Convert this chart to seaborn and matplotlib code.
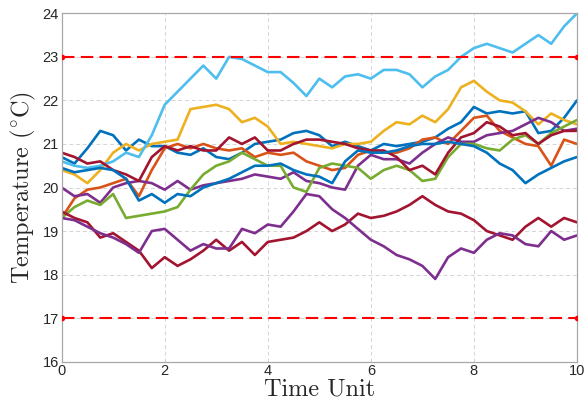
import numpy as np
import pandas as pd
import matplotlib
matplotlib.use("Agg")
import matplotlib.pyplot as plt
import seaborn as sns

# time axis, one reading every 0.25 time units
t = np.linspace(0, 10, 41)

light_blue = [20.6, 20.5, 20.45, 20.5, 20.6, 20.8, 20.7, 21.2, 21.9, 22.2,
              22.5, 22.8, 22.5, 23.0, 22.95, 22.8, 22.65, 22.65, 22.4, 22.1,
              22.5, 22.3, 22.55, 22.6, 22.5, 22.7, 22.7, 22.6, 22.3, 22.55,
              22.7, 23.0, 23.2, 23.3, 23.2, 23.1, 23.3, 23.5, 23.3, 23.7, 24.0]
blue_up = [20.7, 20.55, 20.9, 21.3, 21.2, 20.85, 21.1, 20.95, 20.95, 20.8,
           20.75, 20.9, 20.7, 20.65, 20.8, 21.0, 21.05, 21.1, 21.25, 21.3,
           21.2, 20.95, 21.05, 20.95, 20.85, 21.0, 20.95, 21.0, 21.05, 21.15,
           21.35, 21.5, 21.85, 21.7, 21.75, 21.7, 21.75, 21.25, 21.3, 21.6, 22.0]
blue_low = [20.45, 20.35, 20.4, 20.45, 20.4, 20.2, 19.7, 19.85, 19.65, 19.85,
            19.8, 20.0, 20.1, 20.2, 20.35, 20.5, 20.5, 20.55, 20.4, 20.3,
            20.25, 20.1, 20.6, 20.85, 20.8, 20.8, 20.85, 20.95, 21.0, 21.0,
            21.05, 21.0, 20.95, 20.8, 20.55, 20.4, 20.1, 20.3, 20.45, 20.6, 20.7]
yellow = [20.4, 20.3, 20.1, 20.4, 20.8, 21.0, 20.85, 21.0, 21.05, 21.1,
          21.8, 21.85, 21.9, 21.8, 21.5, 21.6, 21.4, 21.0, 21.05, 21.0,
          20.95, 20.9, 21.0, 21.0, 21.05, 21.3, 21.5, 21.45, 21.65, 21.5,
          21.8, 22.3, 22.45, 22.2, 22.0, 21.95, 21.75, 21.45, 21.7, 21.55, 21.45]
orange = [19.3, 19.75, 19.95, 20.0, 20.1, 20.2, 19.8, 20.4, 20.9, 21.0,
          20.9, 21.0, 20.9, 20.85, 20.9, 20.7, 20.8, 20.75, 20.8, 20.6,
          20.5, 20.4, 20.45, 20.75, 20.85, 20.8, 20.8, 20.9, 21.1, 21.15,
          21.0, 21.3, 21.6, 21.65, 21.3, 21.15, 21.0, 20.95, 20.5, 21.1, 21.0]
green = [19.3, 19.55, 19.7, 19.6, 19.85, 19.3, 19.35, 19.4, 19.45, 19.55,
         19.95, 20.3, 20.5, 20.6, 20.8, 20.65, 20.5, 20.5, 20.0, 19.9,
         20.45, 20.55, 20.5, 20.45, 20.2, 20.4, 20.5, 20.4, 20.15, 20.2,
         20.7, 21.0, 21.0, 20.9, 20.85, 21.1, 21.2, 21.0, 21.25, 21.4, 21.55]
red_up = [20.8, 20.7, 20.55, 20.6, 20.4, 20.3, 20.15, 20.7, 20.95, 20.85,
          20.95, 20.85, 20.85, 21.15, 21.0, 21.15, 20.85, 20.85, 21.0, 21.1,
          21.1, 21.05, 21.0, 20.9, 20.85, 20.85, 20.7, 20.4, 20.5, 20.3,
          20.8, 21.15, 21.25, 21.5, 21.4, 21.2, 21.25, 21.0, 21.2, 21.3, 21.3]
red_low = [19.45, 19.3, 19.2, 18.85, 18.95, 18.75, 18.55, 18.15, 18.4, 18.2,
           18.35, 18.55, 18.8, 18.55, 18.75, 18.45, 18.75, 18.8, 18.85, 19.0,
           19.2, 19.0, 19.15, 19.4, 19.3, 19.35, 19.45, 19.6, 19.8, 19.6,
           19.45, 19.4, 19.25, 19.0, 18.9, 18.8, 19.1, 19.3, 19.1, 19.3, 19.2]
purple_up = [20.0, 19.8, 19.85, 19.65, 20.0, 20.1, 20.15, 20.1, 19.95, 20.15,
             19.95, 20.05, 20.1, 20.15, 20.2, 20.3, 20.25, 20.2, 20.35, 20.15,
             20.1, 20.0, 19.95, 20.5, 20.75, 20.65, 20.65, 20.55, 20.8, 21.0,
             21.15, 21.05, 21.05, 21.2, 21.25, 21.3, 21.45, 21.6, 21.5, 21.3, 21.35]
purple_low = [19.3, 19.25, 19.1, 18.95, 18.85, 18.7, 18.5, 19.0, 19.05, 18.8,
              18.55, 18.7, 18.6, 18.6, 19.05, 18.95, 19.15, 19.1, 19.45, 19.85,
              19.8, 19.5, 19.3, 19.05, 18.8, 18.65, 18.45, 18.35, 18.2, 17.9,
              18.4, 18.6, 18.5, 18.8, 18.95, 18.9, 18.7, 18.65, 19.0, 18.8, 18.9]

runs = {
    "run1": blue_up, "run2": orange, "run3": yellow, "run4": purple_up,
    "run5": green, "run6": light_blue, "run7": red_up, "run8": blue_low,
    "run9": red_low, "run10": purple_low,
}
colors = ["#0072BD", "#D95319", "#EDB120", "#7E2F8E", "#77AC30",
          "#4DBEEE", "#A2142F", "#0072BD", "#A2142F", "#7E2F8E"]

limits = [23, 17]

df = pd.concat([pd.DataFrame({"t": t, "temp": v, "run": k}) for k, v in runs.items()])

sns.set_style("white")
plt.rcParams["mathtext.fontset"] = "cm"

fig = plt.figure(figsize=(5.85, 4.12), dpi=100)
ax = fig.add_axes([0.1053, 0.1221, 0.881, 0.8456])

sns.lineplot(data=df, x="t", y="temp", hue="run", palette=colors,
             estimator=None, linewidth=1.9, legend=False, ax=ax)

for lim in limits:
    ax.plot([0, 10], [lim, lim], color="#FF0000", linestyle=(0, (6, 3)),
            linewidth=1.5, marker=".", markersize=6, zorder=5)

ax.set_xlim(0, 10)
ax.set_ylim(16, 24)
ax.set_xticks(range(0, 11, 2))
ax.set_yticks(range(16, 25))
ax.grid(True, color="#d4d4d4", linestyle=(0, (4, 3)), linewidth=0.7)
for s in ax.spines.values():
    s.set_color("#a8a8a8")
    s.set_linewidth(0.9)
ax.tick_params(direction="in", length=3, color="#a8a8a8", labelsize=10.5,
               labelcolor="#262626", pad=2)
for lab in ax.get_xticklabels() + ax.get_yticklabels():
    lab.set_family("Liberation Sans")

ax.set_xlabel("Time Unit", fontname="cmr10", fontsize=17.5, labelpad=0)
ax.set_ylabel(r"Temperature ($^{\circ}$C)", fontname="cmr10", fontsize=17.5, labelpad=3)

fig.savefig("out.png", dpi=100)
